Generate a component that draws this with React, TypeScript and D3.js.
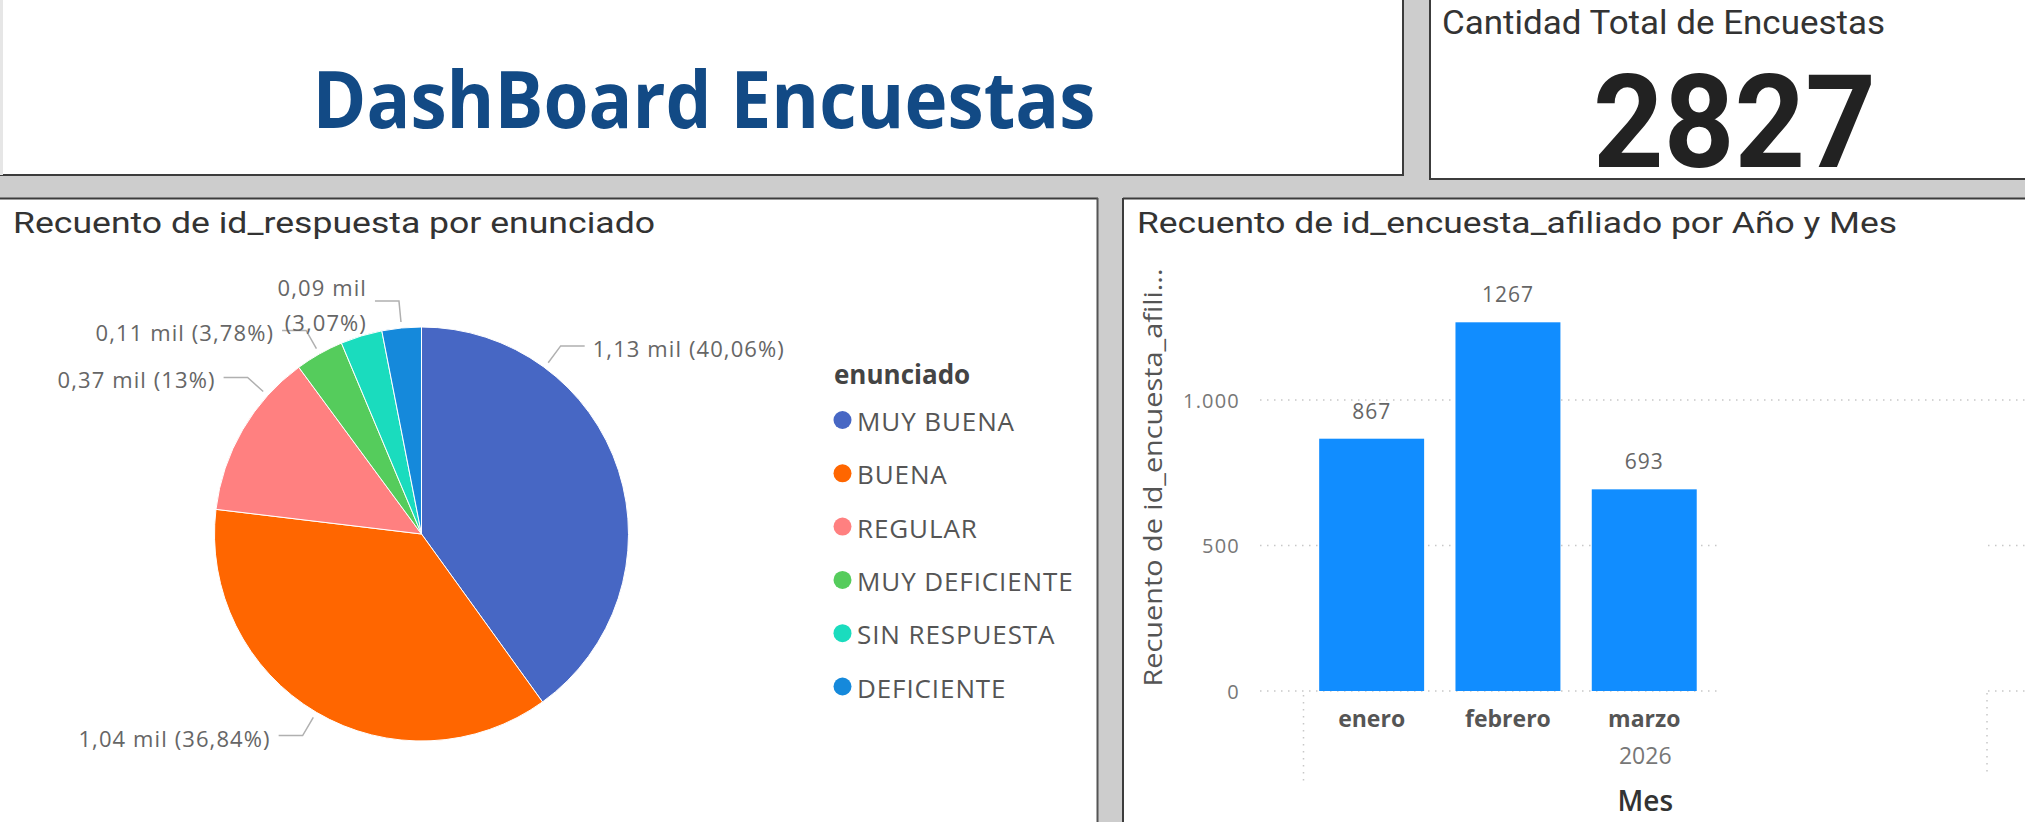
import React from 'react';
import * as d3 from 'd3';

// ---------- DATA ----------
const categories = ['MUY BUENA', 'BUENA', 'REGULAR', 'MUY DEFICIENTE', 'SIN RESPUESTA', 'DEFICIENTE'];
const sharePct = [40.06, 36.84, 13, 3.78, 3.25, 3.07];
const countMil = [1.13, 1.04, 0.37, 0.11, 0.09, 0.09];
const showLabel = [true, true, true, true, false, true];

const months = ['enero', 'febrero', 'marzo'];
const monthCounts = [867, 1267, 693];
const yearLabel = '2026';
const yTicks = [0, 500, 1000];

const totalEncuestas = 2827;

// ---------- STYLE / LAYOUT ----------
const sliceColors = ['#4767C4', '#FF6600', '#FF8080', '#55CC5C', '#1ADCBE', '#1589DB'];
const labelAngleOverride: (number | null)[] = [36.5, null, 312, null, null, null];
const wrapLabel = [false, false, false, false, false, true];
const W = 2025, H = 822;
const FONT = "'Open Sans', 'Segoe UI', sans-serif";
const DIN = "Roboto, 'Open Sans', sans-serif";
const BORDER = '#3c3c3c';

const loc = d3.formatLocale({ decimal: ',', thousands: '.', grouping: [3], currency: ['', ''] });
const fmtThousands = loc.format(',');
const fmtMil = loc.format('.2f');
const fmtPct = (v: number) => loc.format('.2~f')(v);

export default function App() {
  // ---- pie ----
  const cx = 421.5, cy = 534, R = 207;
  const pie = d3.pie<number>().sort(null).value((d) => d).startAngle(0).endAngle(2 * Math.PI);
  const arcs = pie(sharePct);
  const arc = d3.arc<d3.PieArcDatum<number>>().innerRadius(0).outerRadius(R);

  // ---- bars ----
  const x0 = 1303.5, step = 136.3, groupEnd = 1987;
  const x = d3.scaleBand<string>().domain(months).range([x0, x0 + months.length * step]).paddingInner(0.23).paddingOuter(0.115);
  const y = d3.scaleLinear().domain([0, 1000]).range([691, 400]);
  const groupMid = (x0 + groupEnd) / 2;

  return (
    <svg width={W} height={H} style={{ position: 'absolute', left: 0, top: 0, background: '#fff' }}>
      {/* gaps / shadows */}
      <rect x={0} y={0} width={W} height={H} fill="#cdcdcd" />
      <rect x={0} y={0} width={1403} height={175} fill="#fff" />
      <rect x={1430} y={0} width={W - 1430} height={179} fill="#fff" />
      <rect x={0} y={198} width={1098} height={H - 198} fill="#fff" />
      <rect x={1123} y={198} width={W - 1123} height={H - 198} fill="#fff" />
      {/* borders */}
      <line x1={1403} y1={0} x2={1403} y2={176} stroke={BORDER} strokeWidth={2} />
      <line x1={0} y1={175} x2={1404} y2={175} stroke={BORDER} strokeWidth={2} />
      <line x1={1430} y1={0} x2={1430} y2={180} stroke={BORDER} strokeWidth={2} />
      <line x1={1429} y1={179} x2={W} y2={179} stroke={BORDER} strokeWidth={2} />
      <line x1={0} y1={198.5} x2={1098} y2={198.5} stroke={BORDER} strokeWidth={2} />
      <line x1={1097.5} y1={198} x2={1097.5} y2={H} stroke="#555" strokeWidth={2} />
      <line x1={1123} y1={198.5} x2={W} y2={198.5} stroke={BORDER} strokeWidth={2} />
      <line x1={1123} y1={198} x2={1123} y2={H} stroke={BORDER} strokeWidth={2} />
      <rect x={0} y={0} width={3} height={175} fill="#e6e6e6" />

      {/* title */}
      <text x={312.5} y={128} fontFamily={FONT} fontWeight={700} fontSize={78} fill="#124A85"
        textLength={783} lengthAdjust="spacingAndGlyphs">DashBoard Encuestas</text>

      {/* KPI */}
      <text x={1442} y={34} fontFamily={DIN} fontSize={34} fill="#333" textLength={443} lengthAdjust="spacingAndGlyphs">
        Cantidad Total de Encuestas
      </text>
      <text x={1593} y={167} fontFamily={DIN} fontWeight={700} fontSize={129} fill="#222" textLength={283} lengthAdjust="spacingAndGlyphs">
        {String(totalEncuestas)}
      </text>

      {/* left panel title */}
      <text x={13} y={233} fontFamily={DIN} fontSize={30} fill="#333" textLength={642} lengthAdjust="spacingAndGlyphs">
        Recuento de id_respuesta por enunciado
      </text>

      {/* pie */}
      <g transform={`translate(${cx},${cy})`}>
        {arcs.map((a, i) => (
          <path key={categories[i]} d={arc(a) || ''} fill={sliceColors[i]} stroke="#fff" strokeWidth={1} />
        ))}
      </g>
      {arcs.map((a, i) => {
        if (!showLabel[i]) return null;
        const mid = (a.startAngle + a.endAngle) / 2;
        const ang = labelAngleOverride[i] != null ? ((labelAngleOverride[i] as number) * Math.PI) / 180 : mid;
        const right = Math.sin(ang) > 0;
        const sx = cx + (R + 6) * Math.sin(ang), sy = cy - (R + 6) * Math.cos(ang);
        const ex = cx + (R + 27) * Math.sin(ang), ey = cy - (R + 27) * Math.cos(ang);
        const hx = ex + (right ? 24 : -24);
        const tx = hx + (right ? 8 : -8);
        const milTxt = `${fmtMil(countMil[i])} mil`;
        const pctTxt = `(${fmtPct(sharePct[i])}%)`;
        return (
          <g key={'lbl' + i}>
            <polyline points={`${sx},${sy} ${ex},${ey} ${hx},${ey}`} fill="none" stroke="#b0b0b0" strokeWidth={1.5} />
            {wrapLabel[i] ? (
              <text fontFamily={FONT} fontSize={22} letterSpacing={1.1} fill="#666" textAnchor={right ? 'start' : 'end'} dominantBaseline="central">
                <tspan x={tx} y={ey - 14}>{milTxt}</tspan>
                <tspan x={tx} y={ey + 21}>{pctTxt}</tspan>
              </text>
            ) : (
              <text x={tx} y={ey + 2} fontFamily={FONT} fontSize={22} letterSpacing={1.1} fill="#666"
                textAnchor={right ? 'start' : 'end'} dominantBaseline="central">
                {`${milTxt} ${pctTxt}`}
              </text>
            )}
          </g>
        );
      })}

      {/* legend */}
      <text x={834} y={374} fontFamily={FONT} fontWeight={700} fontSize={26} fill="#444" dominantBaseline="central">enunciado</text>
      {categories.map((c, i) => (
        <g key={'leg' + c} transform={`translate(0,${420 + i * 53.3})`}>
          <circle cx={842.5} cy={0} r={9} fill={sliceColors[i]} />
          <text x={857} y={1} fontFamily={FONT} fontSize={26} letterSpacing={0.9} fill="#555" dominantBaseline="central">{c}</text>
        </g>
      ))}

      {/* right panel title */}
      <text x={1137} y={233} fontFamily={DIN} fontSize={30} fill="#333" textLength={760} lengthAdjust="spacingAndGlyphs">
        Recuento de id_encuesta_afiliado por Año y Mes
      </text>

      {/* gridlines */}
      {yTicks.map((t) => (
        <line key={'g' + t} x1={1260} x2={W} y1={y(t)} y2={y(t)} stroke="#c8c8c8" strokeWidth={1.5} strokeDasharray="1.5 5.5" />
      ))}
      <rect x={1722} y={y(700)} width={groupEnd - 1722 - 2} height={y(0) - y(700) + 4} fill="#fff" />
      {/* year group boundaries */}
      <line x1={x0} x2={x0} y1={y(0) + 4} y2={783} stroke="#c8c8c8" strokeWidth={1.5} strokeDasharray="1.5 5.5" />
      <line x1={groupEnd} x2={groupEnd} y1={y(0) + 2} y2={777} stroke="#c8c8c8" strokeWidth={1.5} strokeDasharray="1.5 5.5" />

      {/* y ticks */}
      {yTicks.map((t) => (
        <text key={'yt' + t} x={1240} y={y(t)} fontFamily={FONT} fontSize={20} letterSpacing={1.2} fill="#777"
          textAnchor="end" dominantBaseline="central">{fmtThousands(t)}</text>
      ))}
      {/* y axis title */}
      <text transform={`translate(1152,${(268 + 687) / 2}) rotate(-90)`} fontFamily={FONT} fontSize={26} fill="#555"
        textAnchor="middle" dominantBaseline="central" textLength={418} lengthAdjust="spacingAndGlyphs">
        Recuento de id_encuesta_afili...
      </text>

      {/* bars */}
      {months.map((m, i) => (
        <g key={'bar' + m}>
          <rect x={x(m)} y={y(monthCounts[i])} width={x.bandwidth()} height={y(0) - y(monthCounts[i])} fill="#118DFF" />
          <text x={(x(m) as number) + x.bandwidth() / 2} y={y(monthCounts[i]) - 28} fontFamily={FONT} fontSize={21}
            letterSpacing={1} fill="#666" textAnchor="middle" dominantBaseline="central">{monthCounts[i]}</text>
          <text x={(x(m) as number) + x.bandwidth() / 2} y={718} fontFamily={FONT} fontWeight={700} fontSize={23}
            fill="#555" textAnchor="middle" dominantBaseline="central">{m}</text>
        </g>
      ))}
      <text x={groupMid} y={755} fontFamily={FONT} fontSize={23} fill="#777" textAnchor="middle" dominantBaseline="central">{yearLabel}</text>
      <text x={groupMid} y={800} fontFamily={FONT} fontWeight={600} fontSize={28} fill="#333" textAnchor="middle" dominantBaseline="central">Mes</text>
    </svg>
  );
}
